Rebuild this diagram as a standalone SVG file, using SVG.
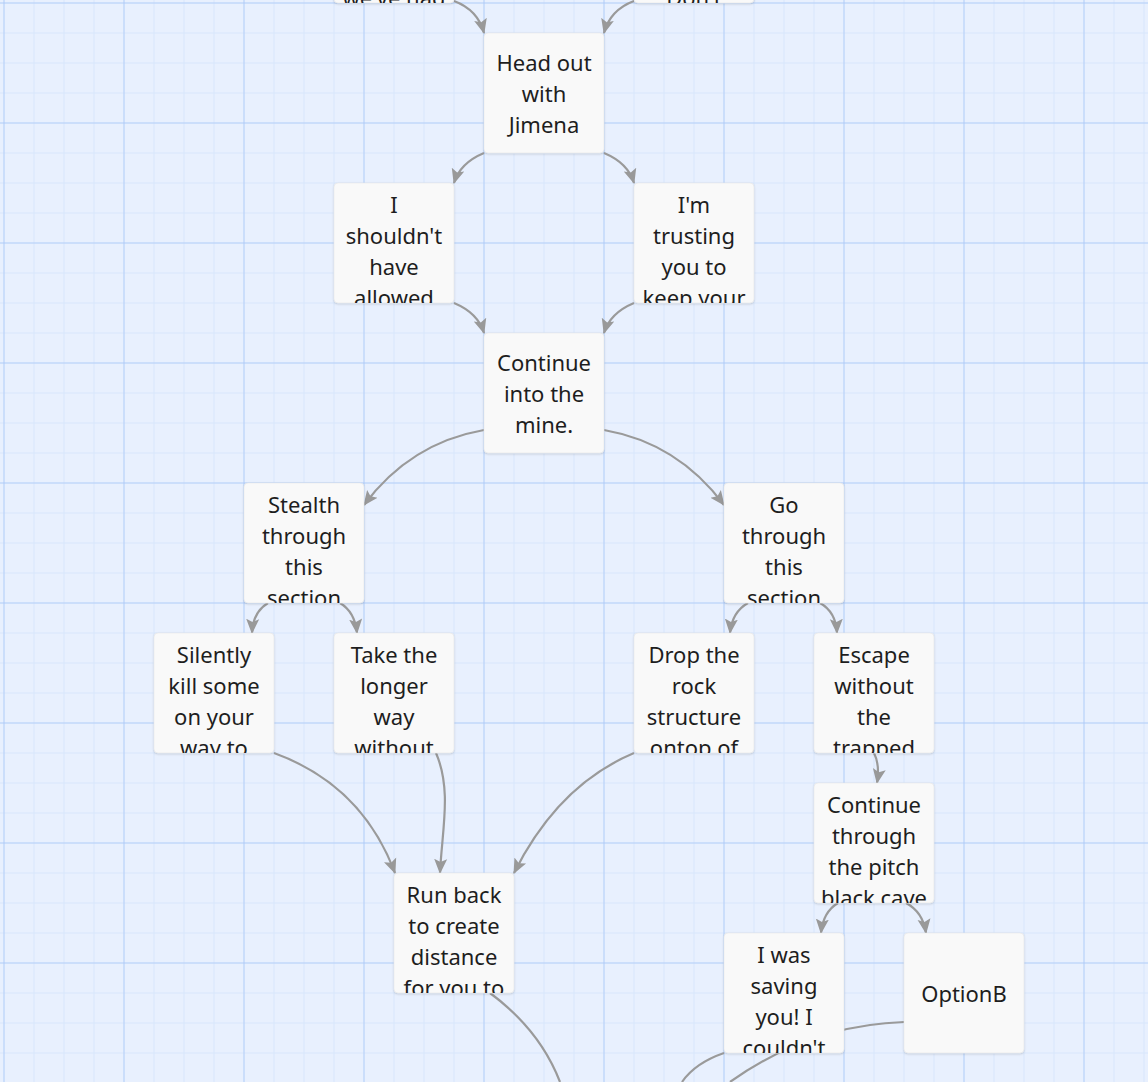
<svg xmlns="http://www.w3.org/2000/svg" width="1148" height="1082" viewBox="0 0 1148 1082">
<defs>
<pattern id="minor" x="3.5" y="2.5" width="30" height="30" patternUnits="userSpaceOnUse">
<path d="M0 0 H30 M0 0 V30" stroke="#d8e6fb" stroke-width="2" fill="none"/>
</pattern>
<pattern id="major" x="3.5" y="2.5" width="120" height="120" patternUnits="userSpaceOnUse">
<path d="M0 0 H120 M0 0 V120" stroke="#a9c8f7" stroke-width="1.5" fill="none"/>
</pattern>
<marker id="arr" markerUnits="userSpaceOnUse" markerWidth="16" markerHeight="16" refX="14" refY="8" orient="auto">
<path d="M0 1.5 L15 8 L0 14.5 L3 8 z" fill="#999"/>
</marker>
<filter id="sh" x="-10%" y="-10%" width="120%" height="125%">
<feDropShadow dx="0" dy="1" stdDeviation="1" flood-color="#000" flood-opacity="0.15"/>
</filter>
<style>
.box{fill:#f9f9f9;stroke:#e6e6e6;stroke-width:0.6;filter:url(#sh)}
.t{font-family:"Noto Sans","Open Sans","DejaVu Sans",sans-serif;font-size:22px;fill:#1e1e1e;text-anchor:middle}
.e{fill:none;stroke:#9a9a9a;stroke-width:2.2}
.ea{fill:none;stroke:#9a9a9a;stroke-width:2.2;marker-end:url(#arr)}
</style>
</defs>
<rect width="1148" height="1082" fill="#e8f0fe"/>
<rect width="1148" height="1082" fill="url(#minor)"/>
<rect width="1148" height="1082" fill="url(#major)"/>

<g id="connectors">
<path class="ea" d="M454 1 Q478 10 484 33"/>
<path class="ea" d="M634 1 Q610 10 604 33"/>
<path class="ea" d="M484 153 Q460 163 454 183"/>
<path class="ea" d="M604 153 Q628 163 634 183"/>
<path class="ea" d="M454 303 Q478 313 484 333"/>
<path class="ea" d="M634 303 Q610 313 604 333"/>
<path class="ea" d="M484 430 Q410 443 364 505"/>
<path class="ea" d="M604 430 Q678 443 724 505"/>
<path class="ea" d="M268 603 Q253 612 252 633"/>
<path class="ea" d="M340 603 Q355 612 357 633"/>
<path class="ea" d="M748 603 Q732 612 730 633"/>
<path class="ea" d="M820 603 Q836 612 837 633"/>
<path class="ea" d="M874 753 Q880 765 877 783"/>
<path class="ea" d="M838 903 Q823 912 821 933"/>
<path class="ea" d="M906 903 Q923 912 926 933"/>
<path class="ea" d="M274 753 Q362 785 395 873"/>
<path class="ea" d="M436 753 C452 790 442 830 440 873"/>
<path class="ea" d="M634 753 Q558 785 514 873"/>
<path class="e" d="M490 993 Q540 1030 560 1082"/>
<path class="e" d="M724 1053 Q695 1063 682 1082"/>
<path class="e" d="M904 1022 Q810 1025 730 1082"/>
</g>

<g id="n-top-left">
<rect class="box" x="334" y="-117" width="120" height="120" rx="4"/>
<svg x="334" y="-117" width="120" height="120" overflow="hidden"><text class="t" x="60" y="123">we've had</text></svg>
</g>
<g id="n-top-right">
<rect class="box" x="634" y="-117" width="120" height="120" rx="4"/>
<svg x="634" y="-117" width="120" height="120" overflow="hidden"><text class="t" x="60" y="123">Don't</text></svg>
</g>
<g id="n-head-out">
<rect class="box" x="484" y="33" width="120" height="120" rx="4"/>
<text class="t" x="544" y="71">Head out</text>
<text class="t" x="544" y="102">with</text>
<text class="t" x="544" y="133">Jimena</text>
</g>
<g id="n-shouldnt">
<rect class="box" x="334" y="183" width="120" height="120" rx="4"/>
<svg x="334" y="183" width="120" height="120" overflow="hidden">
<text class="t" x="60" y="30">I</text><text class="t" x="60" y="61">shouldn't</text><text class="t" x="60" y="92">have</text><text class="t" x="60" y="123">allowed</text></svg>
</g>
<g id="n-trusting">
<rect class="box" x="634" y="183" width="120" height="120" rx="4"/>
<svg x="634" y="183" width="120" height="120" overflow="hidden">
<text class="t" x="60" y="30">I'm</text><text class="t" x="60" y="61">trusting</text><text class="t" x="60" y="92">you to</text><text class="t" x="60" y="123">keep your</text></svg>
</g>
<g id="n-continue-mine">
<rect class="box" x="484" y="333" width="120" height="120" rx="4"/>
<text class="t" x="544" y="371">Continue</text>
<text class="t" x="544" y="402">into the</text>
<text class="t" x="544" y="433">mine.</text>
</g>
<g id="n-stealth">
<rect class="box" x="244" y="483" width="120" height="120" rx="4"/>
<svg x="244" y="483" width="120" height="120" overflow="hidden">
<text class="t" x="60" y="30">Stealth</text><text class="t" x="60" y="61">through</text><text class="t" x="60" y="92">this</text><text class="t" x="60" y="123">section</text></svg>
</g>
<g id="n-go-through">
<rect class="box" x="724" y="483" width="120" height="120" rx="4"/>
<svg x="724" y="483" width="120" height="120" overflow="hidden">
<text class="t" x="60" y="30">Go</text><text class="t" x="60" y="61">through</text><text class="t" x="60" y="92">this</text><text class="t" x="60" y="123">section</text></svg>
</g>
<g id="n-silently">
<rect class="box" x="154" y="633" width="120" height="120" rx="4"/>
<svg x="154" y="633" width="120" height="120" overflow="hidden">
<text class="t" x="60" y="30">Silently</text><text class="t" x="60" y="61">kill some</text><text class="t" x="60" y="92">on your</text><text class="t" x="60" y="123">way to</text></svg>
</g>
<g id="n-longer">
<rect class="box" x="334" y="633" width="120" height="120" rx="4"/>
<svg x="334" y="633" width="120" height="120" overflow="hidden">
<text class="t" x="60" y="30">Take the</text><text class="t" x="60" y="61">longer</text><text class="t" x="60" y="92">way</text><text class="t" x="60" y="123">without</text></svg>
</g>
<g id="n-drop">
<rect class="box" x="634" y="633" width="120" height="120" rx="4"/>
<svg x="634" y="633" width="120" height="120" overflow="hidden">
<text class="t" x="60" y="30">Drop the</text><text class="t" x="60" y="61">rock</text><text class="t" x="60" y="92">structure</text><text class="t" x="60" y="123">ontop of</text></svg>
</g>
<g id="n-escape">
<rect class="box" x="814" y="633" width="120" height="120" rx="4"/>
<svg x="814" y="633" width="120" height="120" overflow="hidden">
<text class="t" x="60" y="30">Escape</text><text class="t" x="60" y="61">without</text><text class="t" x="60" y="92">the</text><text class="t" x="60" y="123">trapped</text></svg>
</g>
<g id="n-pitch">
<rect class="box" x="814" y="783" width="120" height="120" rx="4"/>
<svg x="814" y="783" width="120" height="120" overflow="hidden">
<text class="t" x="60" y="30">Continue</text><text class="t" x="60" y="61">through</text><text class="t" x="60" y="92">the pitch</text><text class="t" x="60" y="123">black cave</text></svg>
</g>
<g id="n-run-back">
<rect class="box" x="394" y="873" width="120" height="120" rx="4"/>
<svg x="394" y="873" width="120" height="120" overflow="hidden">
<text class="t" x="60" y="30">Run back</text><text class="t" x="60" y="61">to create</text><text class="t" x="60" y="92">distance</text><text class="t" x="60" y="123">for you to</text></svg>
</g>
<g id="n-saving">
<rect class="box" x="724" y="933" width="120" height="120" rx="4"/>
<svg x="724" y="933" width="120" height="120" overflow="hidden">
<text class="t" x="60" y="30">I was</text><text class="t" x="60" y="61">saving</text><text class="t" x="60" y="92">you! I</text><text class="t" x="60" y="123">couldn't</text></svg>
</g>
<g id="n-optionb">
<rect class="box" x="904" y="933" width="120" height="120" rx="4"/>
<text class="t" x="964" y="1002">OptionB</text>
</g>
</svg>
